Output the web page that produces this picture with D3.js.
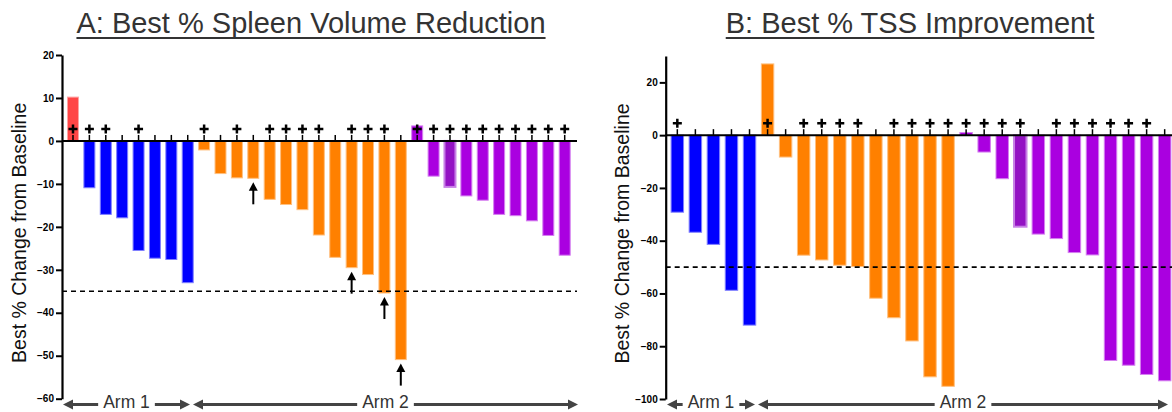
<!DOCTYPE html>
<html>
<head>
<meta charset="utf-8">
<script src="https://cdn.jsdelivr.net/npm/d3@7"></script>
<style>
  body { margin: 0; background: #fff; }
  svg { display: block; font-family: "Liberation Sans", Arial, sans-serif; }
</style>
</head>
<body>
<div id="chart"></div>
<script>
// Panel A: best % spleen volume reduction, one bar per patient
const spleenValues = [
  10.2,
  -10.9, -17.1, -17.9, -25.5, -27.3, -27.6, -33.0,
  -2.1, -7.6, -8.6, -8.7, -13.6, -14.8, -16.0, -21.9, -27.1, -29.5, -31.1, -35.4, -50.9,
  3.5, -8.2, -10.7, -12.8, -13.8, -17.1, -17.4, -18.6, -22.0, -26.6
];
const spleenGroups = [
  'red',
  'blue', 'blue', 'blue', 'blue', 'blue', 'blue', 'blue',
  'orange', 'orange', 'orange', 'orange', 'orange', 'orange', 'orange', 'orange', 'orange', 'orange', 'orange', 'orange', 'orange',
  'purple', 'purple', 'purpleDark', 'purple', 'purple', 'purple', 'purple', 'purple', 'purple', 'purple'
];
const spleenPlus = [0, 1, 2, 4, 8, 10, 12, 13, 14, 15, 17, 18, 19, 21, 22, 23, 24, 25, 26, 27, 28, 29, 30];
const spleenArrows = [11, 17, 19, 20];
const spleenTicks = [20, 10, 0, -10, -20, -30, -40, -50, -60];

// Panel B: best % TSS improvement
const tssValues = [
  -29.2, -36.8, -41.4, -58.8, -72.0,
  27.0, -8.3, -45.5, -47.3, -49.3, -49.8, -61.8, -69.2, -78.0, -91.6, -95.2,
  1.0, -6.4, -16.5, -34.7, -37.5, -39.2, -44.5, -45.4, -85.4, -87.2, -90.7, -93.1
];
const tssGroups = [
  'blue', 'blue', 'blue', 'blue', 'blue',
  'orange', 'orange', 'orange', 'orange', 'orange', 'orange', 'orange', 'orange', 'orange', 'orange', 'orange',
  'purple', 'purple', 'purple', 'purpleDark', 'purple', 'purple', 'purple', 'purple', 'purple', 'purple', 'purple', 'purple'
];
const tssPlus = [0, 5, 7, 8, 9, 10, 12, 13, 14, 15, 16, 17, 18, 19, 21, 22, 23, 24, 25, 26];
const tssArrows = [];
const tssTicks = [20, 0, -20, -40, -60, -80, -100];

const fills = {
  red: '#ff4646',
  blue: '#0000ff',
  orange: '#ff8000',
  purple: '#aa00e0',
  purpleDark: '#9412c4'
};

const width = 1172;
const height = 412;

const svg = d3.select('#chart')
  .append('svg')
  .attr('width', width)
  .attr('height', height);

function drawPanel(opts) {
  const g = svg.append('g');

  const x = d3.scaleBand()
    .domain(d3.range(opts.values.length))
    .range(opts.bandRange)
    .paddingInner(opts.barPad)
    .paddingOuter(opts.barPad / 2);

  const y = d3.scaleLinear()
    .domain(opts.yDomain)
    .range(opts.yRange);

  // Bars
  g.selectAll('rect.bar')
    .data(opts.values)
    .join('rect')
    .attr('class', 'bar')
    .attr('x', (d, i) => x(i))
    .attr('width', x.bandwidth())
    .attr('y', d => y(Math.max(0, d)))
    .attr('height', d => Math.abs(y(d) - y(0)))
    .attr('fill', (d, i) => fills[opts.groups[i]])
    .attr('stroke', (d, i) => opts.groups[i] === 'purpleDark'
      ? '#c77fe6'
      : d3.interpolateRgb(fills[opts.groups[i]], '#fff')(0.5))
    .attr('stroke-width', (d, i) => opts.groups[i] === 'purpleDark' ? 2 : 1);

  // Threshold line
  g.append('line')
    .attr('x1', opts.left)
    .attr('x2', opts.right)
    .attr('y1', y(opts.threshold))
    .attr('y2', y(opts.threshold))
    .attr('stroke', '#000')
    .attr('stroke-width', 1.6)
    .attr('stroke-dasharray', '5,4');

  // Zero line with a tick at each bar
  const xAxis = g.append('g')
    .attr('transform', `translate(0,${y(0)})`)
    .call(d3.axisTop(x).tickSizeInner(6).tickSizeOuter(0).tickFormat(''));
  xAxis.select('.domain').remove();
  xAxis.selectAll('.tick line').attr('stroke-width', 1.5);
  xAxis.append('line')
    .attr('x1', opts.left)
    .attr('x2', opts.right)
    .attr('stroke', '#000')
    .attr('stroke-width', 2);

  // Plus markers
  g.selectAll('path.plus')
    .data(opts.plus)
    .join('path')
    .attr('class', 'plus')
    .attr('transform', i => `translate(${x(i) + x.bandwidth() / 2},${y(0) - 12})`)
    .attr('d', 'M-4.5,0H4.5M0,-4.5V4.5')
    .attr('stroke', '#000')
    .attr('stroke-width', 2.5);

  // Upward arrows under selected bars
  const arrows = g.selectAll('g.arrow')
    .data(opts.arrows)
    .join('g')
    .attr('class', 'arrow')
    .attr('transform', i => `translate(${x(i) + x.bandwidth() / 2},${y(opts.values[i]) + 4})`);
  arrows.append('line')
    .attr('y1', 6)
    .attr('y2', 22)
    .attr('stroke', '#000')
    .attr('stroke-width', 2);
  arrows.append('path')
    .attr('d', 'M0,0L4.5,8.5L-4.5,8.5Z')
    .attr('fill', '#000');

  // Y axis
  const yAxis = g.append('g')
    .attr('transform', `translate(${opts.left},0)`)
    .call(d3.axisLeft(y).tickValues(opts.ticks).tickSize(6).tickPadding(2).tickSizeOuter(0));
  yAxis.select('.domain').attr('stroke-width', 2.2);
  yAxis.selectAll('.tick line').attr('stroke-width', 2);
  yAxis.selectAll('.tick text')
    .attr('font-size', 10)
    .attr('font-weight', 'bold')
    .attr('font-family', '"Liberation Sans", Arial, sans-serif')
    .attr('fill', '#000');

  // Y label
  g.append('text')
    .attr('transform', `translate(${opts.labelX},${(opts.yRange[0] + opts.yRange[1]) / 2 + 6}) rotate(-90)`)
    .attr('text-anchor', 'middle')
    .attr('font-size', 19.5)
    .attr('fill', '#111')
    .text('Best % Change from Baseline');

  // Title with underline
  const title = g.append('text')
    .attr('x', opts.titleX)
    .attr('y', 33)
    .attr('text-anchor', 'middle')
    .attr('font-size', 29)
    .attr('fill', '#333')
    .text(opts.title);
  const tw = title.node().getComputedTextLength();
  g.append('line')
    .attr('x1', opts.titleX - tw / 2)
    .attr('x2', opts.titleX + tw / 2)
    .attr('y1', 38)
    .attr('y2', 38)
    .attr('stroke', '#333')
    .attr('stroke-width', 2);

  // Arm annotations
  opts.arms.forEach(arm => {
    const cx = (arm.x0 + arm.x1) / 2;
    const t = g.append('text')
      .attr('x', cx)
      .attr('y', 408)
      .attr('text-anchor', 'middle')
      .attr('font-size', 17.5)
      .attr('fill', '#333')
      .text(arm.label);
    const half = t.node().getComputedTextLength() / 2 + 5;
    const ay = 404.5;
    [[cx - half, arm.x0], [cx + half, arm.x1]].forEach(([from, to]) => {
      const dir = Math.sign(to - from);
      g.append('line')
        .attr('x1', from)
        .attr('x2', to - dir * 6)
        .attr('y1', ay)
        .attr('y2', ay)
        .attr('stroke', '#444')
        .attr('stroke-width', 3);
      g.append('path')
        .attr('d', `M${to},${ay}L${to - dir * 10},${ay - 5}L${to - dir * 10},${ay + 5}Z`)
        .attr('fill', '#444');
    });
  });
}

drawPanel({
  values: spleenValues,
  groups: spleenGroups,
  plus: spleenPlus,
  arrows: spleenArrows,
  ticks: spleenTicks,
  yDomain: [-60, 20],
  yRange: [398.7, 55],
  bandRange: [64.8, 572.9],
  barPad: 0.33,
  left: 62,
  right: 577,
  threshold: -35,
  labelX: 26,
  title: 'A: Best % Spleen Volume Reduction',
  titleX: 311,
  arms: [
    { label: 'Arm 1', x0: 63, x1: 190 },
    { label: 'Arm 2', x0: 193, x1: 578 }
  ]
});

drawPanel({
  values: tssValues,
  groups: tssGroups,
  plus: tssPlus,
  arrows: tssArrows,
  ticks: tssTicks,
  yDomain: [-100, 30],
  yRange: [399, 56],
  bandRange: [668.3, 1173.7],
  barPad: 0.31,
  left: 665.7,
  right: 1172,
  threshold: -50,
  labelX: 629,
  title: 'B: Best % TSS Improvement',
  titleX: 910,
  arms: [
    { label: 'Arm 1', x0: 667, x1: 755 },
    { label: 'Arm 2', x0: 758, x1: 1168 }
  ]
});
</script>
</body>
</html>
